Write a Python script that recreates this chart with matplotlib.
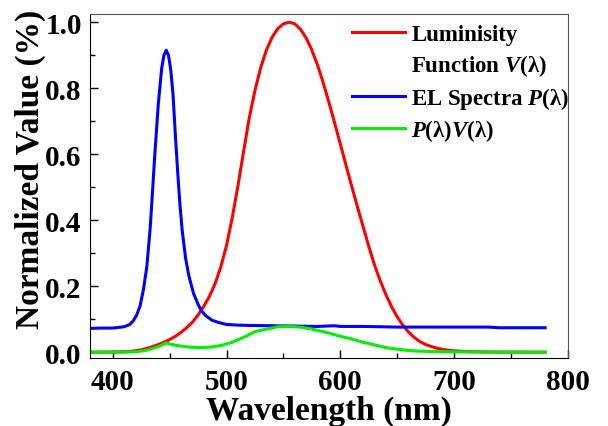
import numpy as np
import matplotlib
matplotlib.use('Agg')
import matplotlib.pyplot as plt
from matplotlib.lines import Line2D
from matplotlib.ticker import MultipleLocator, FormatStrFormatter

plt.rcParams['font.family'] = ['Liberation Serif', 'DejaVu Serif']
plt.rcParams['font.weight'] = 'bold'
plt.rcParams['mathtext.fontset'] = 'custom'
plt.rcParams['mathtext.it'] = 'Liberation Serif:italic:bold'
plt.rcParams['mathtext.rm'] = 'Liberation Serif:bold'

# luminosity function V(lambda), 5 nm steps
wl_v = np.arange(380, 781, 5)
lum = [0.000039, 0.000064, 0.00012, 0.000217, 0.000396, 0.00064, 0.00121, 0.00218,
       0.004, 0.0073, 0.0116, 0.01684, 0.023, 0.0298, 0.038, 0.048, 0.06, 0.0739,
       0.091, 0.1126, 0.139, 0.1693, 0.208, 0.2586, 0.323, 0.4073, 0.503, 0.6082,
       0.71, 0.7932, 0.862, 0.9149, 0.954, 0.9803, 0.995, 1.0, 0.995, 0.9786,
       0.952, 0.9154, 0.87, 0.8163, 0.757, 0.6949, 0.631, 0.5668, 0.503, 0.4412,
       0.381, 0.321, 0.265, 0.217, 0.175, 0.1382, 0.107, 0.0816, 0.061, 0.0446,
       0.032, 0.0232, 0.017, 0.0119, 0.0082, 0.0057, 0.0041, 0.0029, 0.0021,
       0.0015, 0.001, 0.0007, 0.0005, 0.0004, 0.0002, 0.0002, 0.0001, 0.0001,
       0.0001, 0.0, 0.0, 0.0, 0.0]

# EL spectrum P(lambda)
wl_el = [380, 390, 400, 405, 410, 415, 418, 421, 424, 427, 430, 433, 437, 440, 443,
         445, 447, 449, 451, 453, 455, 457, 459, 461, 464, 467, 471, 475, 478, 482,
         487, 493, 500, 510, 520, 540, 560, 580, 595, 600, 620, 650, 700, 730, 740,
         760, 780]
el = [0.072, 0.073, 0.073, 0.075, 0.077, 0.084, 0.095, 0.112, 0.14, 0.19, 0.26,
      0.38, 0.6, 0.75, 0.86, 0.9, 0.915, 0.9, 0.855, 0.78, 0.66, 0.55, 0.45, 0.37,
      0.285, 0.23, 0.178, 0.145, 0.125, 0.11, 0.097, 0.09, 0.084, 0.082, 0.081,
      0.08, 0.079, 0.078, 0.08, 0.078, 0.078, 0.076, 0.076, 0.076, 0.074, 0.074,
      0.074]

# product P(lambda)V(lambda)
wl_pv = [380, 400, 420, 430, 440, 447, 455, 465, 475, 485, 495, 505, 515, 525, 535,
         545, 555, 565, 575, 590, 600, 610, 620, 630, 640, 650, 660, 670, 680, 700,
         740, 780]
pv = [0.0, 0.0, 0.001, 0.006, 0.017, 0.028, 0.021, 0.016, 0.014, 0.015, 0.02,
      0.03, 0.045, 0.062, 0.07, 0.077, 0.078, 0.076, 0.07, 0.058, 0.048, 0.04,
      0.03, 0.022, 0.014, 0.009, 0.005, 0.003, 0.002, 0.001, 0.0, 0.0]

fig = plt.figure(figsize=(6.08, 4.27), dpi=100)
ax = fig.add_axes([0.148, 0.159, 0.786, 0.806])

ax.plot(wl_v, lum, color='#ff0000', lw=2.2)
ax.plot(wl_el, el, color='#0000ff', lw=2.2)
ax.plot(wl_pv, pv, color='#00ee00', lw=2.2)

ax.set_xlim(380, 800)
ax.set_ylim(-0.018, 1.025)
ax.xaxis.set_major_locator(MultipleLocator(100))
ax.xaxis.set_minor_locator(MultipleLocator(50))
ax.yaxis.set_major_locator(MultipleLocator(0.2))
ax.yaxis.set_minor_locator(MultipleLocator(0.1))
ax.yaxis.set_major_formatter(FormatStrFormatter('%.1f'))
ax.tick_params(which='major', direction='in', length=6, width=1, labelsize=21)
ax.tick_params(axis='x', which='major', pad=7)
ax.tick_params(axis='y', which='major', pad=6)
ax.tick_params(which='minor', direction='in', length=3.5, width=1)
for lab in ax.get_xticklabels() + ax.get_yticklabels():
    lab.set_fontweight('bold')
for s in ['top', 'right']:
    ax.spines[s].set_color('#555555')

ax.set_xlabel('Wavelength (nm)', fontsize=24, fontweight='bold')
ax.set_ylabel('Normalized Value (%)', fontsize=24, fontweight='bold')
ax.xaxis.set_label_coords(0.5, -0.107)
ax.yaxis.set_label_coords(-0.092, 0.55)

handles = [Line2D([], [], color='#ff0000', lw=2.2),
           Line2D([], [], color='none'),
           Line2D([], [], color='#0000ff', lw=2.2),
           Line2D([], [], color='#00ee00', lw=2.2)]
labels = ['Luminisity', r'Function $V$(λ)', r'EL Spectra $P$(λ)', r'$P$(λ)$V$(λ)']
ax.legend(handles, labels, loc='upper left', frameon=False,
          handlelength=2.3, handletextpad=0.3, labelspacing=0.3,
          borderpad=0, borderaxespad=0, bbox_to_anchor=(0.548, 0.971),
          prop={'weight': 'bold', 'size': 16.5})

fig.savefig('out.png', dpi=100)
